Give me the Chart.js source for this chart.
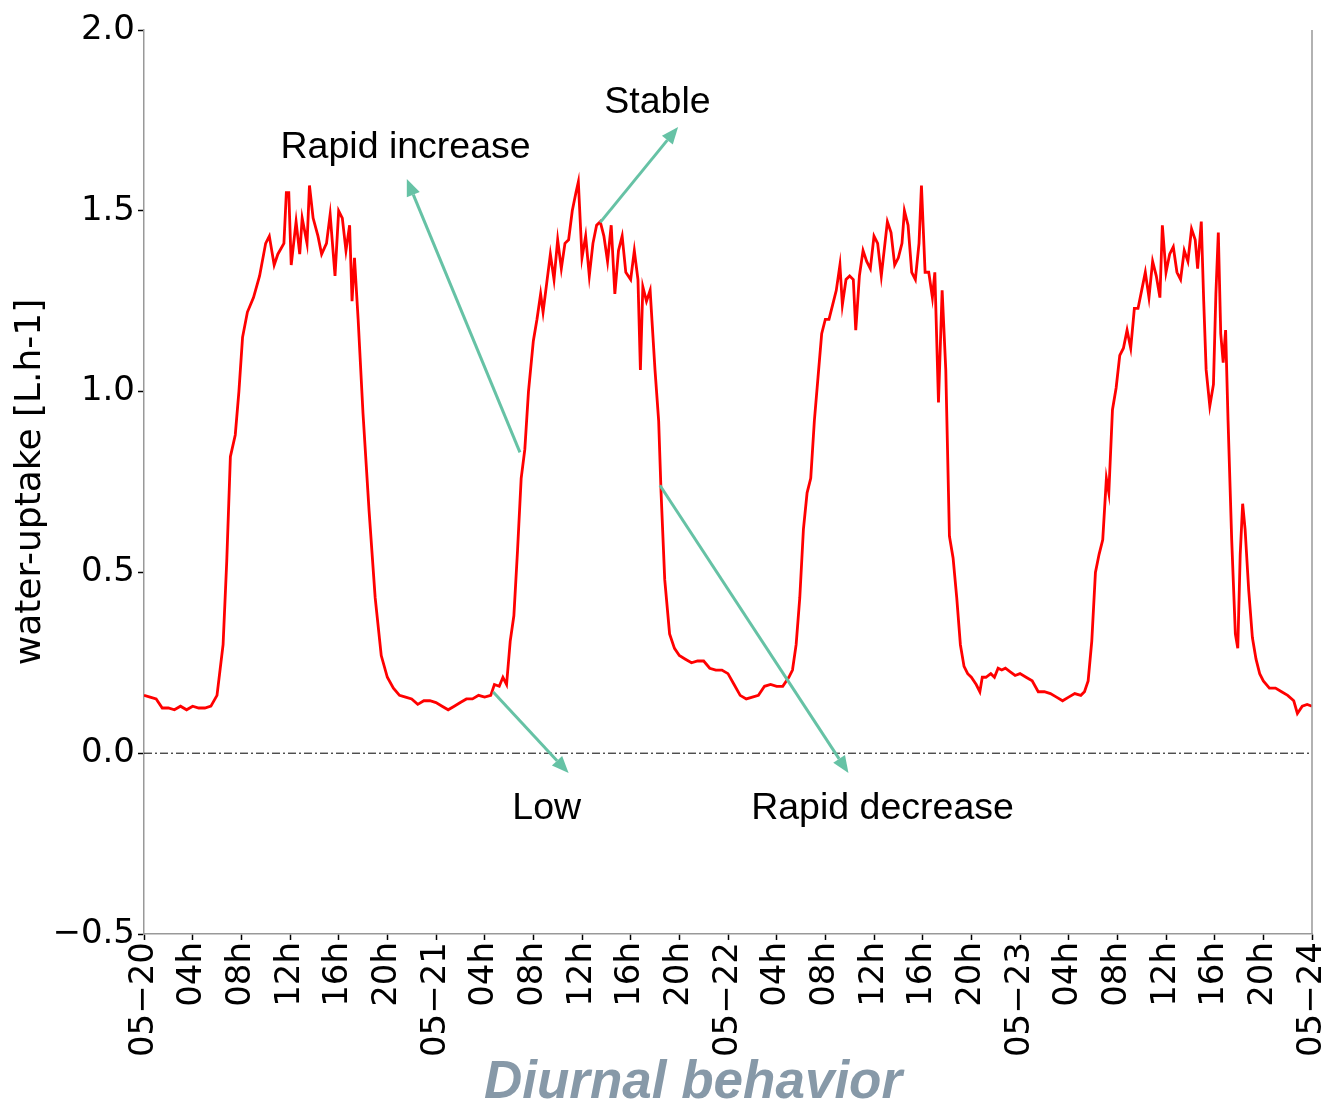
<!DOCTYPE html>
<html>
<head>
<meta charset="utf-8">
<title>Diurnal behavior</title>
<script src="https://cdn.jsdelivr.net/npm/chart.js@4.4.1/dist/chart.umd.min.js"></script>
<style>
  html, body { margin: 0; padding: 0; background: #fff; }
  canvas { display: block; }
</style>
</head>
<body>
<canvas id="chart" width="1327" height="1107"></canvas>
<script>
// -------------------------
// DATA (hours since 05-20 00h, water uptake L/h)
// -------------------------
const hours = [
  0, 0.5, 1, 1.5, 2, 2.5, 3, 3.5, 4, 4.5, 5, 5.5, 6, 6.5, 6.8, 7.1, 7.5, 7.8, 8.1, 8.5,
  9, 9.5, 10, 10.3, 10.7, 11, 11.5, 11.7, 11.9, 12.1, 12.5, 12.8, 13, 13.4, 13.6, 13.9, 14.3, 14.6, 15, 15.3,
  15.7, 16, 16.3, 16.6, 16.9, 17.1, 17.3, 17.6, 18, 18.5, 19, 19.5, 20, 20.5, 21, 21.5, 22, 22.5, 23, 23.5,
  24, 24.5, 25, 25.5, 26, 26.5, 27, 27.5, 28, 28.5, 28.8, 29.2, 29.5, 29.8, 30.1, 30.4, 30.7, 31, 31.3, 31.6,
  32, 32.3, 32.6, 32.8, 33.1, 33.4, 33.7, 34, 34.3, 34.6, 34.9, 35.2, 35.5, 35.7, 36, 36.3, 36.6, 36.9, 37.2, 37.5,
  37.8, 38.1, 38.4, 38.7, 39, 39.3, 39.6, 40, 40.3, 40.6, 40.8, 41, 41.3, 41.6, 42, 42.3, 42.5, 42.8, 43.2, 43.6,
  44, 44.5, 45, 45.5, 46, 46.5, 47, 47.5,
  48, 48.5, 49, 49.5, 50, 50.5, 51, 51.5, 52, 52.5, 53, 53.3, 53.6, 53.9, 54.2, 54.5, 54.8, 55.1, 55.4, 55.7,
  56, 56.3, 56.6, 56.9, 57.2, 57.4, 57.7, 58, 58.3, 58.5, 58.8, 59.1, 59.4, 59.7, 60, 60.3, 60.6, 60.9, 61.1, 61.4,
  61.7, 62, 62.3, 62.5, 62.8, 63.1, 63.4, 63.7, 63.9, 64.2, 64.5, 64.8, 65, 65.3, 65.6, 65.9, 66.2, 66.5, 66.8, 67.1,
  67.4, 67.7, 68, 68.4, 68.7, 68.9, 69.2, 69.6, 69.9, 70.2, 70.5, 70.8, 71.2, 71.6,
  72, 72.5, 73, 73.5, 74, 74.5, 75, 75.5, 76, 76.5, 77, 77.3, 77.6, 77.9, 78.2, 78.5, 78.8, 79.1, 79.3, 79.6,
  79.9, 80.2, 80.5, 80.8, 81.1, 81.4, 81.7, 82, 82.3, 82.6, 82.9, 83.2, 83.5, 83.7, 84, 84.3, 84.6, 84.9, 85.2, 85.5,
  85.8, 86.1, 86.4, 86.6, 86.9, 87.1, 87.3, 87.6, 87.9, 88.1, 88.3, 88.5, 88.7, 88.9, 89.1, 89.4, 89.7, 89.9, 90.1, 90.3,
  90.5, 90.8, 91.1, 91.4, 91.7, 92, 92.5, 93, 93.5, 94, 94.5, 94.8, 95.2, 95.6, 96
];

const uptake = [
  0.16, 0.155, 0.15, 0.125, 0.125, 0.12, 0.13, 0.12, 0.13, 0.125, 0.125, 0.13, 0.16, 0.30, 0.53, 0.82, 0.88, 1.00, 1.15, 1.22,
  1.26, 1.32, 1.41, 1.43, 1.35, 1.38, 1.41, 1.55, 1.55, 1.35, 1.47, 1.38, 1.48, 1.41, 1.57, 1.48, 1.43, 1.38, 1.41, 1.49,
  1.32, 1.50, 1.48, 1.39, 1.46, 1.25, 1.37, 1.20, 0.94, 0.67, 0.43, 0.27, 0.21, 0.18, 0.16, 0.155, 0.15, 0.135, 0.145, 0.145,
  0.14, 0.13, 0.12, 0.13, 0.14, 0.15, 0.15, 0.16, 0.155, 0.16, 0.19, 0.185, 0.21, 0.19, 0.31, 0.38, 0.56, 0.76, 0.84, 1.00,
  1.14, 1.20, 1.27, 1.22, 1.30, 1.38, 1.31, 1.42, 1.34, 1.41, 1.42, 1.50, 1.55, 1.58, 1.37, 1.43, 1.32, 1.41, 1.46, 1.47,
  1.43, 1.36, 1.46, 1.27, 1.39, 1.43, 1.33, 1.31, 1.39, 1.31, 1.06, 1.29, 1.25, 1.28, 1.06, 0.92, 0.72, 0.48, 0.33, 0.29,
  0.27, 0.26, 0.25, 0.255, 0.255, 0.235, 0.23, 0.23,
  0.22, 0.19, 0.16, 0.15, 0.155, 0.16, 0.185, 0.19, 0.185, 0.185, 0.21, 0.23, 0.30, 0.43, 0.62, 0.72, 0.76, 0.92, 1.04, 1.16,
  1.20, 1.20, 1.24, 1.28, 1.35, 1.24, 1.31, 1.32, 1.31, 1.17, 1.32, 1.39, 1.36, 1.34, 1.43, 1.41, 1.32, 1.41, 1.47, 1.44,
  1.35, 1.37, 1.41, 1.50, 1.46, 1.33, 1.31, 1.41, 1.57, 1.33, 1.33, 1.26, 1.33, 0.97, 1.28, 1.06, 0.60, 0.54, 0.43, 0.30,
  0.24, 0.22, 0.21, 0.19, 0.17, 0.21, 0.21, 0.22, 0.21, 0.235, 0.23, 0.235, 0.225, 0.215,
  0.22, 0.21, 0.20, 0.17, 0.17, 0.165, 0.155, 0.145, 0.155, 0.165, 0.16, 0.17, 0.20, 0.31, 0.50, 0.55, 0.59, 0.76, 0.72, 0.95,
  1.01, 1.10, 1.12, 1.17, 1.12, 1.23, 1.23, 1.28, 1.33, 1.26, 1.36, 1.32, 1.26, 1.46, 1.33, 1.38, 1.40, 1.33, 1.31, 1.39,
  1.36, 1.45, 1.42, 1.34, 1.47, 1.25, 1.06, 0.96, 1.02, 1.27, 1.44, 1.16, 1.08, 1.17, 0.92, 0.59, 0.33, 0.29, 0.55, 0.69,
  0.62, 0.45, 0.32, 0.26, 0.22, 0.20, 0.18, 0.18, 0.17, 0.16, 0.145, 0.11, 0.13, 0.135, 0.13
];

// x tick labels, one every 4 hours
const tickLabels = [
  "05\u221220", "04h", "08h", "12h", "16h", "20h",
  "05\u221221", "04h", "08h", "12h", "16h", "20h",
  "05\u221222", "04h", "08h", "12h", "16h", "20h",
  "05\u221223", "04h", "08h", "12h", "16h", "20h",
  "05\u221224"
];

// annotations: text anchor and arrow (data coords)
const notes = [
  { text: "Stable",         at: [42.2, 1.80],  from: [37.5, 1.468], to: [43.9, 1.732] },
  { text: "Rapid increase", at: [21.5, 1.675], from: [30.9, 0.832], to: [21.6, 1.588] },
  { text: "Low",            at: [33.1, -0.152], from: [28.7, 0.169], to: [34.9, -0.055] },
  { text: "Rapid decrease", at: [60.7, -0.152], from: [42.4, 0.741], to: [57.9, -0.055] }
];

const ARROW = "#66c2a5";

// -------------------------
// PLUGIN: spines, arrows, labels
// -------------------------
const extras = {
  id: "extras",
  afterDatasetsDraw(chart) {
    const { ctx, chartArea, scales } = chart;
    const px = (p) => [scales.x.getPixelForValue(p[0]), scales.y.getPixelForValue(p[1])];

    ctx.save();
    // right spine
    ctx.strokeStyle = "#999";
    ctx.lineWidth = 1.5;
    ctx.beginPath();
    ctx.moveTo(chartArea.right, chartArea.top);
    ctx.lineTo(chartArea.right, chartArea.bottom);
    ctx.stroke();

    // arrows
    notes.forEach(n => {
      const [x0, y0] = px(n.from);
      const [x1, y1] = px(n.to);
      const ang = Math.atan2(y1 - y0, x1 - x0);
      const hl = 17, hw = 7;
      const bx = x1 - hl * Math.cos(ang), by = y1 - hl * Math.sin(ang);
      ctx.strokeStyle = ARROW;
      ctx.fillStyle = ARROW;
      ctx.lineWidth = 3;
      ctx.beginPath();
      ctx.moveTo(x0, y0);
      ctx.lineTo(bx, by);
      ctx.stroke();
      ctx.beginPath();
      ctx.moveTo(x1, y1);
      ctx.lineTo(bx + hw * Math.sin(ang), by - hw * Math.cos(ang));
      ctx.lineTo(bx - hw * Math.sin(ang), by + hw * Math.cos(ang));
      ctx.closePath();
      ctx.fill();

      const [tx, ty] = px(n.at);
      ctx.fillStyle = "#000";
      ctx.font = "37.5px 'Liberation Sans', Arial, sans-serif";
      ctx.textAlign = "center";
      ctx.textBaseline = "middle";
      ctx.fillText(n.text, tx, ty);
    });

    // bottom title
    ctx.fillStyle = "#8799a8";
    ctx.font = "italic bold 53px 'Liberation Sans', Arial, sans-serif";
    ctx.textAlign = "center";
    ctx.textBaseline = "middle";
    ctx.fillText("Diurnal behavior", (chartArea.left + chartArea.right) / 2 - 35, chart.height - 24);
    ctx.restore();
  }
};

// -------------------------
// INIT CHART
// -------------------------
const ctx = document.getElementById("chart").getContext("2d");

new Chart(ctx, {
  type: "line",
  data: {
    datasets: [
      {
        label: "water-uptake",
        data: hours.map((h, i) => ({ x: h, y: uptake[i] })),
        borderColor: "#ff0000",
        borderWidth: 2.8,
        pointRadius: 0,
        tension: 0,
        fill: false
      },
      {
        label: "zero",
        data: [{ x: 0, y: 0 }, { x: 96, y: 0 }],
        borderColor: "#000",
        borderWidth: 1,
        borderDash: [8, 3, 2, 3],
        pointRadius: 0,
        fill: false
      }
    ]
  },
  options: {
    responsive: false,
    animation: false,
    devicePixelRatio: 1,
    layout: { padding: { top: 30, right: 15, left: 0, bottom: 0 } },
    plugins: {
      legend: { display: false },
      tooltip: { enabled: false }
    },
    scales: {
      x: {
        type: "linear",
        min: 0,
        max: 96,
        afterFit(s) { s.height = 173; s.paddingLeft = 0; s.paddingRight = 0; },
        border: { display: true, color: "#999", width: 1.5 },
        grid: { drawOnChartArea: false, drawTicks: true, tickLength: 6, tickColor: "#000", tickWidth: 1.5 },
        ticks: {
          stepSize: 4,
          autoSkip: false,
          maxRotation: 90,
          minRotation: 90,
          padding: 2,
          color: "#000",
          font: { family: "'DejaVu Sans', sans-serif", size: 34 },
          callback: (v) => tickLabels[Math.round(v / 4)]
        }
      },
      y: {
        min: -0.5,
        max: 2.0,
        afterFit(s) { s.width = 144; },
        border: { display: true, color: "#999", width: 1.5 },
        grid: { drawOnChartArea: false, drawTicks: true, tickLength: 6, tickColor: "#000", tickWidth: 1.5 },
        ticks: {
          stepSize: 0.5,
          padding: 3,
          color: "#000",
          font: { family: "'DejaVu Sans', sans-serif", size: 34 },
          callback: (v) => (v < 0 ? "\u2212" : "") + Math.abs(v).toFixed(1)
        },
        title: {
          display: true,
          text: "water-uptake [L.h-1]",
          color: "#000",
          padding: { top: 9, bottom: 0 },
          font: { family: "'DejaVu Sans', sans-serif", size: 36, lineHeight: 1.2 }
        }
      }
    }
  },
  plugins: [extras]
});
</script>
</body>
</html>
